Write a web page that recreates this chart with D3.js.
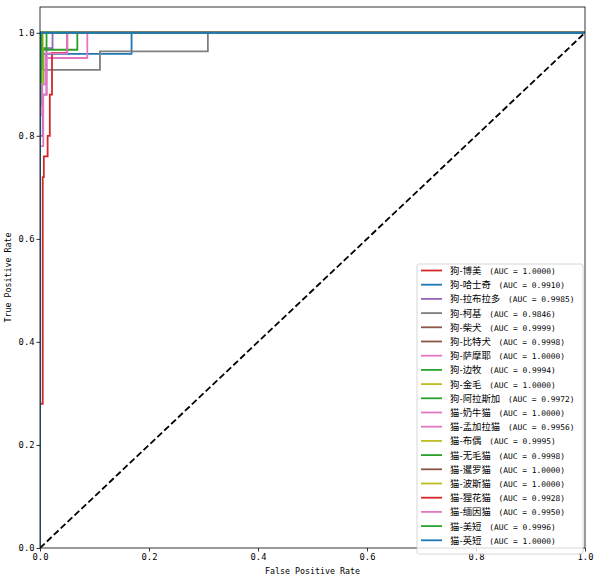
<!DOCTYPE html>
<html>
<head>
<meta charset="utf-8">
<script src="https://cdn.jsdelivr.net/npm/d3@7"></script>
<style>
  body { margin: 0; background: #fff; }
  text { font-family: "DejaVu Sans Mono", "Noto Sans CJK SC", monospace; }
</style>
</head>
<body>
<div id="roc"></div>
<script>
// class names, AUC scores and colours as in the legend
var classNames = ["狗-博美", "狗-哈士奇", "狗-拉布拉多", "狗-柯基", "狗-柴犬", "狗-比特犬", "狗-萨摩耶",
  "狗-边牧", "狗-金毛", "狗-阿拉斯加", "猫-奶牛猫", "猫-孟加拉猫", "猫-布偶", "猫-无毛猫",
  "猫-暹罗猫", "猫-波斯猫", "猫-狸花猫", "猫-缅因猫", "猫-美短", "猫-英短"];
var aucValues = ["1.0000", "0.9910", "0.9985", "0.9846", "0.9999", "0.9998", "1.0000",
  "0.9994", "1.0000", "0.9972", "1.0000", "0.9956", "0.9995", "0.9998",
  "1.0000", "1.0000", "0.9928", "0.9950", "0.9996", "1.0000"];
var lineColors = ["#d62728", "#1f77b4", "#9467bd", "#7f7f7f", "#8c564b", "#8c564b", "#e377c2",
  "#2ca02c", "#bcbd22", "#2ca02c", "#e377c2", "#e377c2", "#bcbd22", "#2ca02c",
  "#8c564b", "#bcbd22", "#d62728", "#e377c2", "#2ca02c", "#1f77b4"];

// ROC points
var fprList = [
  [0, 0, 1],
  [0, 0, 0.004, 0.004, 0.168, 0.168, 1],
  [0, 0, 0.005, 0.005, 0.012, 0.012, 0.023, 0.023, 1],
  [0, 0, 0.004, 0.004, 0.110, 0.110, 0.308, 0.308, 1],
  [0, 0, 0.002, 0.002, 1],
  [0, 0, 0.004, 0.004, 1],
  [0, 0, 1],
  [0, 0, 0.006, 0.006, 0.012, 0.012, 1],
  [0, 0, 1],
  [0, 0, 0.003, 0.003, 0.0685, 0.0685, 1],
  [0, 0, 1],
  [0, 0, 0.006, 0.006, 0.012, 0.012, 0.0868, 0.0868, 1],
  [0, 0, 0.005, 0.005, 1],
  [0, 0, 0.003, 0.003, 1],
  [0, 0, 1],
  [0, 0, 1],
  [0, 0, 0.005, 0.005, 0.007, 0.007, 0.014, 0.014, 0.018, 0.018, 0.022, 0.022, 0.050, 0.050, 1],
  [0, 0, 0.004, 0.004, 0.010, 0.010, 0.050, 0.050, 1],
  [0, 0, 0.002, 0.002, 1],
  [0, 0, 1]
];
var tprList = [
  [0, 1, 1],
  [0, 0.90, 0.90, 0.959, 0.959, 1, 1],
  [0, 0.80, 0.80, 0.88, 0.88, 0.97, 0.97, 1, 1],
  [0, 0.86, 0.86, 0.928, 0.928, 0.964, 0.964, 1, 1],
  [0, 0.95, 0.95, 1, 1],
  [0, 0.95, 0.95, 1, 1],
  [0, 1, 1],
  [0, 0.90, 0.90, 0.97, 0.97, 1, 1],
  [0, 1, 1],
  [0, 0.86, 0.86, 0.967, 0.967, 1, 1],
  [0, 1, 1],
  [0, 0.78, 0.78, 0.88, 0.88, 0.951, 0.951, 1, 1],
  [0, 0.90, 0.90, 1, 1],
  [0, 0.93, 0.93, 1, 1],
  [0, 1, 1],
  [0, 1, 1],
  [0, 0.28, 0.28, 0.72, 0.72, 0.76, 0.76, 0.80, 0.80, 0.88, 0.88, 0.961, 0.961, 1, 1],
  [0, 0.84, 0.84, 0.90, 0.90, 0.96, 0.96, 1, 1],
  [0, 0.98, 0.98, 1, 1],
  [0, 1, 1]
];
var xTicks = [0, 0.2, 0.4, 0.6, 0.8, 1.0];
var yTicks = [0, 0.2, 0.4, 0.6, 0.8, 1.0];

var margin = {top: 7, right: 15, bottom: 34, left: 40},
    width = 600 - margin.left - margin.right,
    height = 582 - margin.top - margin.bottom;

var svg = d3.select("#roc")
  .append("svg")
    .attr("width", 600)
    .attr("height", 582)
  .append("g")
    .attr("transform", "translate(" + margin.left + "," + margin.top + ")");

var x = d3.scaleLinear().domain([0, 1]).range([0, width]);
var y = d3.scaleLinear().domain([0, 1.05]).range([height, 0]);

svg.append("clipPath").attr("id", "clip")
  .append("rect").attr("width", width).attr("height", height);

var plot = svg.append("g").attr("clip-path", "url(#clip)");

var line = d3.line()
  .x(function(d) { return x(d[0]); })
  .y(function(d) { return y(d[1]); });

classNames.forEach(function(name, i) {
  var pts = fprList[i].map(function(f, j) { return [f, tprList[i][j]]; });
  plot.append("path")
    .attr("d", line(pts))
    .attr("fill", "none")
    .attr("stroke", lineColors[i])
    .attr("stroke-width", 1.8);
});

// chance line
plot.append("path")
  .attr("d", line([[0, 0], [1, 1]]))
  .attr("fill", "none")
  .attr("stroke", "#000")
  .attr("stroke-width", 1.8)
  .attr("stroke-dasharray", "6.5,3");

// axes
var xAxis = svg.append("g")
  .attr("transform", "translate(0," + height + ")")
  .call(d3.axisBottom(x).tickValues(xTicks).tickFormat(d3.format(".1f")).tickSize(3.5).tickPadding(2));
var yAxis = svg.append("g")
  .call(d3.axisLeft(y).tickValues(yTicks).tickFormat(d3.format(".1f")).tickSize(3.5).tickPadding(2));
[xAxis, yAxis].forEach(function(a) {
  a.select(".domain").remove();
  a.selectAll("text").attr("font-size", 8.8).attr("fill", "#000")
    .style("font-family", "'DejaVu Sans Mono', monospace");
  a.selectAll("line").attr("stroke", "#000").attr("stroke-width", 0.8);
});

svg.append("rect")
  .attr("width", width).attr("height", height)
  .attr("fill", "none").attr("stroke", "#000").attr("stroke-width", 0.8);

svg.append("text")
  .attr("x", width / 2).attr("y", height + 26)
  .attr("text-anchor", "middle").attr("font-size", 8.3)
  .text("False Positive Rate");
svg.append("text")
  .attr("transform", "translate(" + (-29) + "," + (height / 2) + ") rotate(-90)")
  .attr("text-anchor", "middle").attr("font-size", 8.3)
  .text("True Positive Rate");

// legend
var legX = 377, legY = 257, rowH = 14.2;
var legW = 166, legH = rowH * classNames.length + 6;
var legend = svg.append("g").attr("transform", "translate(" + legX + "," + legY + ")");
legend.append("rect")
  .attr("width", legW).attr("height", legH)
  .attr("rx", 2)
  .attr("fill", "#fff").attr("fill-opacity", 0.8)
  .attr("stroke", "#ccc").attr("stroke-width", 0.8);

classNames.forEach(function(name, i) {
  var cy = 6.5 + i * rowH;
  legend.append("line")
    .attr("x1", 4).attr("x2", 25).attr("y1", cy).attr("y2", cy)
    .attr("stroke", lineColors[i]).attr("stroke-width", 1.8);
  var t = legend.append("text")
    .attr("x", 33).attr("y", cy + 3.4);
  t.append("tspan").attr("font-size", 9.4)
    .style("font-family", "'Noto Sans CJK SC', sans-serif")
    .text(name);
  t.append("tspan").attr("font-size", 7.9).attr("dx", 3)
    .text(" (AUC = " + aucValues[i] + ")");
});
</script>
</body>
</html>
